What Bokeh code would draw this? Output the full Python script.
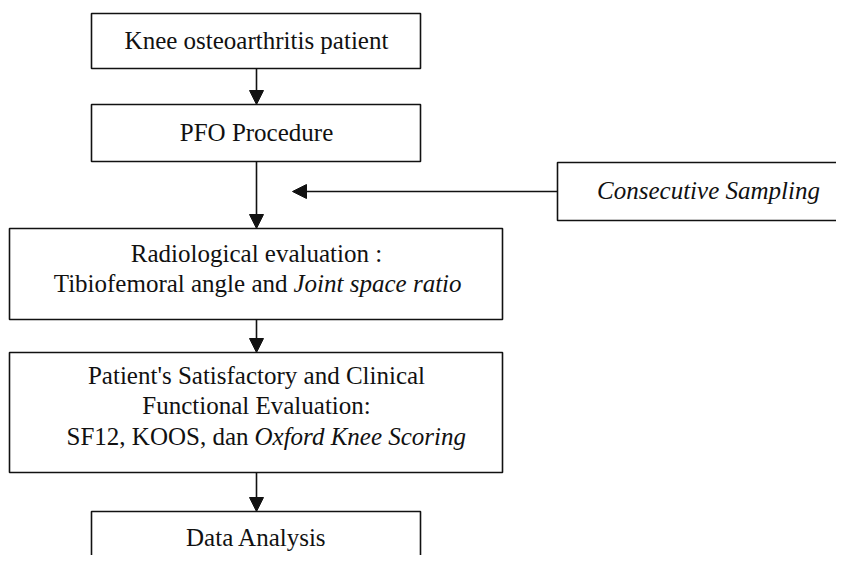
from bokeh.plotting import figure
from bokeh.models import ColumnDataSource, Range1d, Arrow, NormalHead
from bokeh.core.properties import value
from bokeh.embed import file_html
from bokeh.resources import INLINE

# ---- flowchart data (image pixel coordinates) ----
box_names = ["patient", "pfo", "radio", "clinical", "analysis", "sampling"]
box_left = [92, 92, 10, 10, 92, 558]
box_right = [421, 421, 503, 503, 421, 870]
box_top = [14, 105, 229, 353, 512, 163]
box_bottom = [69, 162, 320, 473, 600, 221]

arrow_x0 = [257, 257, 257, 257, 558]
arrow_y0 = [69, 162, 320, 473, 192]
arrow_x1 = [257, 257, 257, 257, 293]
arrow_y1 = [105, 229, 353, 512, 192]

# text pieces: x, y, text, style, align
txt_x = [257, 257, 257, 288, 294, 257, 257, 249, 255, 257, 709]
txt_y = [41, 133, 254, 284, 284, 376, 406, 437, 437, 538, 191]
txt_s = ["Knee osteoarthritis patient", "PFO Procedure",
         "Radiological evaluation :", "Tibiofemoral angle and", "Joint space ratio",
         "Patient's Satisfactory and Clinical", "Functional Evaluation:",
         "SF12, KOOS, dan", "Oxford Knee Scoring",
         "Data Analysis", "Consecutive Sampling"]
txt_style = ["normal", "normal", "normal", "normal", "italic", "normal", "normal",
             "normal", "italic", "normal", "italic"]
txt_align = ["center", "center", "center", "right", "left", "center", "center",
             "right", "left", "center", "center"]

W, H = 836, 555
X0, Y0 = 1, 1
p = figure(width=W, height=H, output_backend="svg", toolbar_location=None,
           x_range=Range1d(X0, X0 + W), y_range=Range1d(Y0 + H, Y0),
           min_border=0, min_border_left=0, min_border_right=0,
           min_border_top=0, min_border_bottom=0)
p.axis.visible = False
p.grid.visible = False
p.outline_line_color = None
p.background_fill_color = "white"
p.border_fill_color = "white"

boxes = ColumnDataSource(dict(name=box_names, left=box_left, right=box_right,
                              top=box_top, bottom=box_bottom))
p.quad(left="left", right="right", top="top", bottom="bottom", source=boxes,
       fill_color="white", line_color="#111111", line_width=1.6)

arrows = ColumnDataSource(dict(x0=arrow_x0, y0=arrow_y0, x1=arrow_x1, y1=arrow_y1))
p.add_layout(Arrow(x_start="x0", y_start="y0", x_end="x1", y_end="y1", source=arrows,
                   line_color="#111111", line_width=1.6,
                   end=NormalHead(size=14, fill_color="#111111", line_color="#111111",
                                  line_width=1)))

for st in ["normal", "italic"]:
    for al in ["center", "left", "right"]:
        idx = [i for i in range(len(txt_s)) if txt_style[i] == st and txt_align[i] == al]
        if not idx:
            continue
        src = ColumnDataSource(dict(x=[txt_x[i] for i in idx], y=[txt_y[i] for i in idx],
                                    t=[txt_s[i] for i in idx]))
        p.text(x="x", y="y", text="t", source=src, text_font=value("Liberation Serif"),
               text_font_size="25px", text_font_style=st, text_align=al,
               text_baseline="middle", text_color="#111111")

open("out.html", "w").write(file_html(p, INLINE))
